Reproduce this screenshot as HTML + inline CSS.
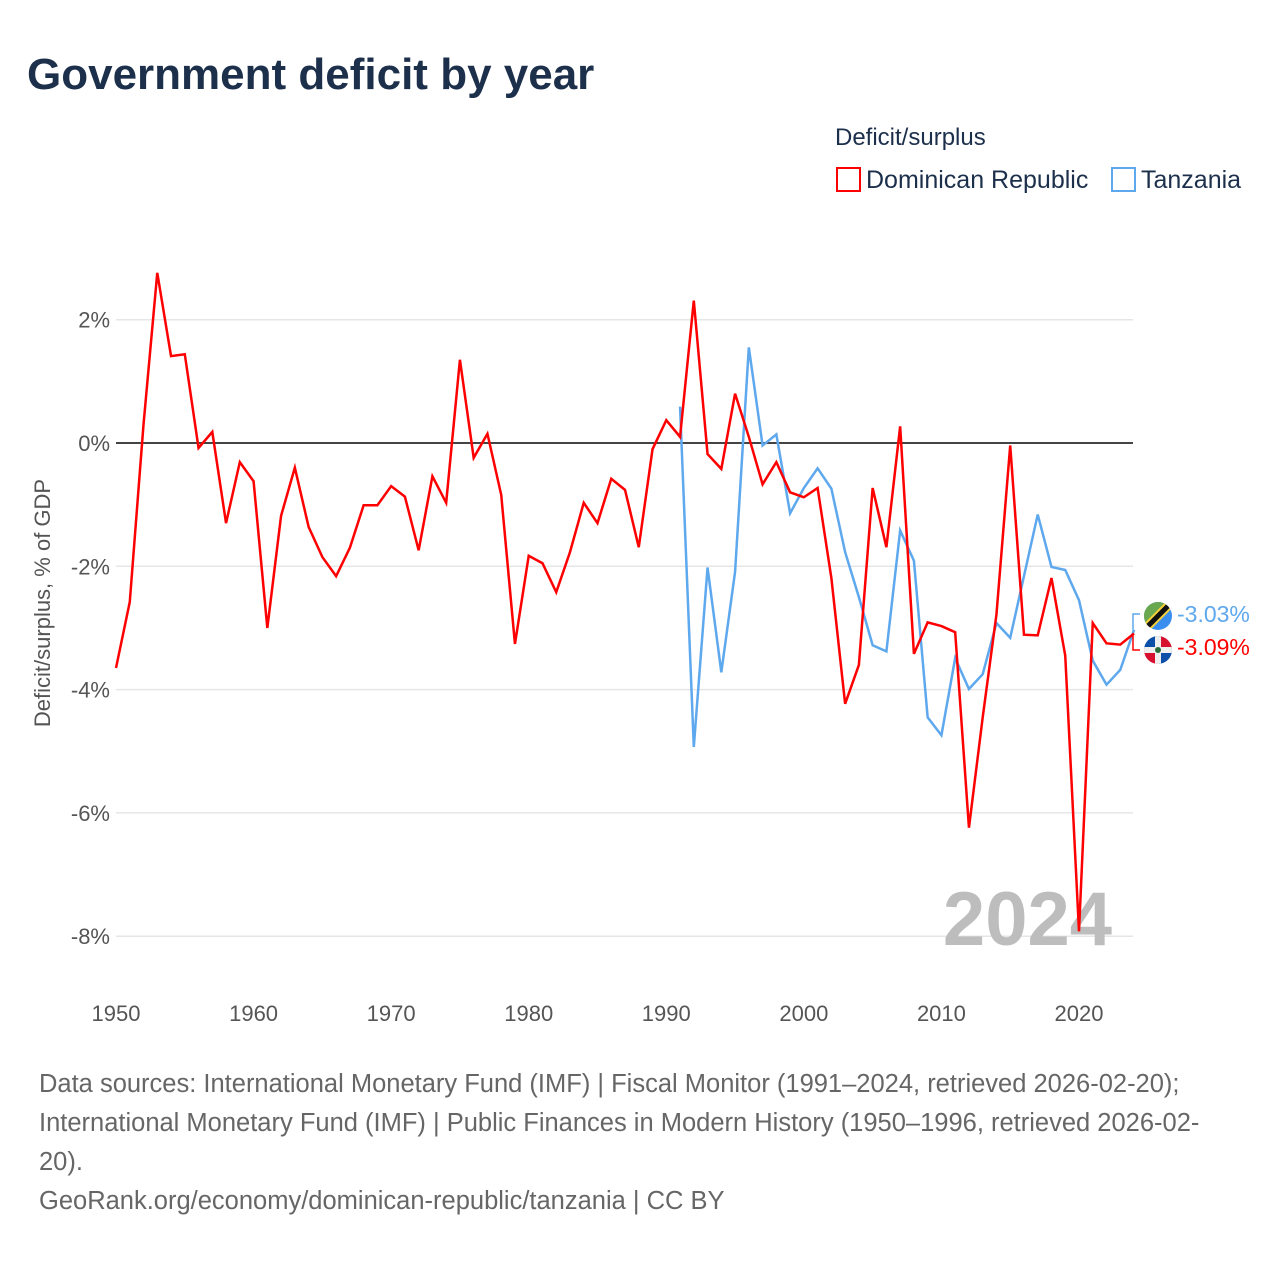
<!DOCTYPE html>
<html><head><meta charset="utf-8"><style>
body{margin:0;background:#fff;font-family:"Liberation Sans",sans-serif;}
#wrap{position:relative;width:1280px;height:1280px;overflow:hidden;}
.t{position:absolute;white-space:nowrap;}
</style></head><body>
<div id="wrap">
<div class="t" style="left:27px;top:50px;font-size:44px;font-weight:bold;color:#1c2f4b;">Government deficit by year</div>
<div class="t" style="left:835px;top:124px;font-size:24px;color:#1c2f4b;">Deficit/surplus</div>
<div class="t" style="left:836px;top:166px;font-size:25px;color:#1c2f4b;"><span style="display:inline-block;width:21px;height:21px;border:2px solid #f00;vertical-align:-4px;margin-right:5px;"></span>Dominican Republic</div>
<div class="t" style="left:1111px;top:166px;font-size:25px;color:#1c2f4b;"><span style="display:inline-block;width:21px;height:21px;border:2px solid #5ea8ee;vertical-align:-4px;margin-right:5px;"></span>Tanzania</div>
<svg id="plot" width="1280" height="1280" style="position:absolute;left:0;top:0;"></svg>
<div class="t" style="left:39px;top:1065px;font-size:25.5px;line-height:39px;color:#666;">Data sources: International Monetary Fund (IMF) | Fiscal Monitor (1991–2024, retrieved 2026-02-20);<br>International Monetary Fund (IMF) | Public Finances in Modern History (1950–1996, retrieved 2026-02-<br>20).<br>GeoRank.org/economy/dominican-republic/tanzania | CC BY</div>
</div>
<script>
const drYears=[1950,1951,1952,1953,1954,1955,1956,1957,1958,1959,1960,1961,1962,1963,1964,1965,1966,1967,1968,1969,1970,1971,1972,1973,1974,1975,1976,1977,1978,1979,1980,1981,1982,1983,1984,1985,1986,1987,1988,1989,1990,1991,1992,1993,1994,1995,1996,1997,1998,1999,2000,2001,2002,2003,2004,2005,2006,2007,2008,2009,2010,2011,2012,2013,2014,2015,2016,2017,2018,2019,2020,2021,2022,2023,2024];
const drValues=[-3.65,-2.58,0.3,2.76,1.41,1.44,-0.08,0.18,-1.30,-0.31,-0.62,-3.0,-1.18,-0.40,-1.36,-1.85,-2.16,-1.70,-1.01,-1.01,-0.70,-0.87,-1.74,-0.54,-0.97,1.35,-0.24,0.15,-0.84,-3.26,-1.83,-1.95,-2.42,-1.77,-0.97,-1.30,-0.58,-0.76,-1.69,-0.10,0.37,0.10,2.31,-0.18,-0.42,0.80,0.10,-0.67,-0.31,-0.80,-0.88,-0.73,-2.19,-4.23,-3.60,-0.73,-1.69,0.27,-3.42,-2.91,-2.97,-3.07,-6.24,-4.45,-2.78,-0.04,-3.11,-3.12,-2.19,-3.45,-7.92,-2.92,-3.25,-3.27,-3.09];
const tzYears=[1991,1992,1993,1994,1995,1996,1997,1998,1999,2000,2001,2002,2003,2004,2005,2006,2007,2008,2009,2010,2011,2012,2013,2014,2015,2016,2017,2018,2019,2020,2021,2022,2023,2024];
const tzValues=[0.59,-4.93,-2.02,-3.72,-2.09,1.55,-0.04,0.14,-1.14,-0.73,-0.41,-0.74,-1.77,-2.5,-3.28,-3.38,-1.42,-1.91,-4.45,-4.74,-3.49,-3.99,-3.75,-2.92,-3.16,-2.16,-1.16,-2.01,-2.06,-2.55,-3.53,-3.92,-3.68,-3.03];
const yTicks=[2,0,-2,-4,-6,-8];
const yTickLabels=["2%","0%","-2%","-4%","-6%","-8%"];
const xTicks=[1950,1960,1970,1980,1990,2000,2010,2020];
const xTickLabels=["1950","1960","1970","1980","1990","2000","2010","2020"];

const X=y=>116+(y-1950)*(963/70);
const Y=v=>443-v*61.65;
const NS="http://www.w3.org/2000/svg";
const svg=document.getElementById('plot');
function mk(tag,attrs){const e=document.createElementNS(NS,tag);for(const k in attrs)e.setAttribute(k,attrs[k]);svg.appendChild(e);return e;}
yTicks.forEach((t,i)=>{
  if(t!==0){const g=mk('line',{x1:116,x2:1133,y1:Y(t),y2:Y(t),stroke:'#e6e6e6','stroke-width':1.5});
  
  }
  const tx=mk('text',{x:110,y:Y(t)+8,'text-anchor':'end','font-size':22,fill:'#555','font-family':'Liberation Sans, sans-serif'});
  tx.textContent=yTickLabels[i];
  
  
});
xTicks.forEach((t,i)=>{
  const tx=mk('text',{x:X(t),y:1021,'text-anchor':'middle','font-size':22,fill:'#555','font-family':'Liberation Sans, sans-serif'});
  tx.textContent=xTickLabels[i];
  
  
});
const yt=mk('text',{x:0,y:0,transform:'translate(50,603) rotate(-90)','text-anchor':'middle','font-size':22,fill:'#555','font-family':'Liberation Sans, sans-serif'});
yt.textContent='Deficit/surplus, % of GDP';


const wm=mk('text',{x:1112,y:945,'text-anchor':'end','font-size':76,'font-weight':'bold',fill:'#bdbdbd','font-family':'Liberation Sans, sans-serif'});
wm.textContent='2024';


const zl=mk('line',{x1:116,x2:1133,y1:Y(0),y2:Y(0),stroke:'#444','stroke-width':2});


function series(years,vals,color,name){
  const p=mk('polyline',{points:years.map((y,i)=>X(y)+','+Y(vals[i])).join(' '),fill:'none',stroke:color,'stroke-width':2.5,'stroke-linejoin':'miter'});
  
  
}
series(tzYears,tzValues,'#5ea8ee','line-tanzania');
series(drYears,drValues,'#ff0000','line-dominican-republic');
const tzEnd=Y(tzValues[tzValues.length-1]), drEnd=Y(drValues[drValues.length-1]);
const c1=mk('path',{d:`M1133 ${tzEnd} V614 H1140`,fill:'none',stroke:'#5ea8ee','stroke-width':1.5});


const c2=mk('path',{d:`M1133 ${drEnd} V650 H1140`,fill:'none',stroke:'#f00','stroke-width':1.5});


const f1=mk('g',{});


f1.innerHTML='<defs><clipPath id="cp1"><circle cx="1158" cy="616" r="14"/></clipPath><clipPath id="cp2"><circle cx="1158" cy="650" r="14"/></clipPath></defs><g clip-path="url(#cp1)"><rect x="1144" y="602" width="28" height="28" fill="#3a8ef0"/><polygon points="1144,602 1172,602 1144,630" fill="#6aa84f"/><line x1="1144" y1="630" x2="1172" y2="602" stroke="#f5d03b" stroke-width="9"/><line x1="1144" y1="630" x2="1172" y2="602" stroke="#111" stroke-width="5"/></g><g clip-path="url(#cp2)"><rect x="1144" y="636" width="14" height="14" fill="#0b4fa8"/><rect x="1158" y="636" width="14" height="14" fill="#d8102f"/><rect x="1144" y="650" width="14" height="14" fill="#d8102f"/><rect x="1158" y="650" width="14" height="14" fill="#0b4fa8"/><rect x="1155" y="636" width="6" height="28" fill="#eee"/><rect x="1144" y="647" width="28" height="6" fill="#eee"/><circle cx="1158" cy="650" r="3" fill="#2a6b3a"/></g>';
svg.appendChild(f1);
const l1=mk('text',{x:1177,y:622,'font-size':23,fill:'#5ea8ee','font-family':'Liberation Sans, sans-serif'});
l1.textContent='-3.03%';


const l2=mk('text',{x:1177,y:655,'font-size':23,fill:'#f00','font-family':'Liberation Sans, sans-serif'});
l2.textContent='-3.09%';


</script>
</body></html>
